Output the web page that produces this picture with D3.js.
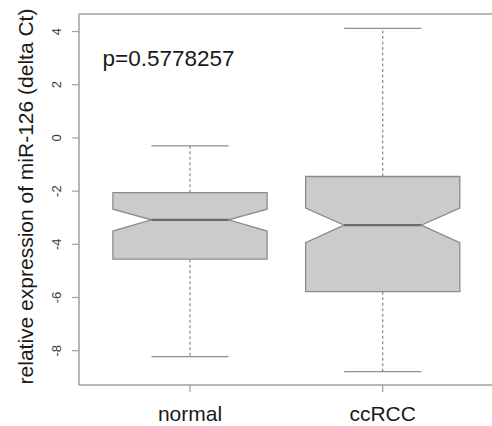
<!DOCTYPE html>
<html>
  <head>
    <meta charset="utf-8">
    <script src="https://d3js.org/d3.v7.min.js"></script>
    <style>
      html, body { margin: 0; padding: 0; background: #fff; overflow: hidden; }
      svg { display: block; }
      text { font-family: "Liberation Sans", Arial, sans-serif; }
    </style>
  </head>
  <body>
    <svg width="492" height="426"></svg>
    <script>
      // data
      var groups = ["normal", "ccRCC"];
      var whiskerLow  = [-8.22, -8.79];
      var boxLow      = [-4.56, -5.78];
      var notchLow    = [-3.50, -3.94];
      var medians     = [-3.08, -3.28];
      var notchHigh   = [-2.68, -2.64];
      var boxHigh     = [-2.06, -1.45];
      var whiskerHigh = [-0.30, 4.12];
      var yTicks = [-8, -6, -4, -2, 0, 2, 4];
      var pLabel = "p=0.5778257";
      var yTitle = "relative expression of miR-126 (delta Ct)";

      var svg = d3.select("svg");

      // plot region (right border runs past the picture edge)
      var plotL = 79, plotR = 494.5, plotT = 14, plotB = 385;

      var x = d3.scaleLinear().domain([0.42, 2.58]).range([plotL - 0.8, plotR]);
      var y = d3.scaleLinear().domain([-9.29, 4.66]).range([plotB, plotT]);

      var boxes = groups.map(function(g, i) {
        return {name: g, pos: i + 1, wl: whiskerLow[i], q1: boxLow[i], nl: notchLow[i],
                med: medians[i], nh: notchHigh[i], q3: boxHigh[i], wh: whiskerHigh[i]};
      });

      var hw = 0.4;  // half box width in x units

      var g = svg.append("g");

      // whiskers
      g.selectAll(".whisk").data(boxes).enter().append("g").each(function(d) {
        var s = d3.select(this);
        s.append("line")
          .attr("x1", x(d.pos)).attr("x2", x(d.pos))
          .attr("y1", y(d.q3)).attr("y2", y(d.wh))
          .attr("stroke", "#8a8a8a").attr("stroke-width", 1.2)
          .attr("stroke-dasharray", "3,2.5");
        s.append("line")
          .attr("x1", x(d.pos)).attr("x2", x(d.pos))
          .attr("y1", y(d.q1)).attr("y2", y(d.wl))
          .attr("stroke", "#8a8a8a").attr("stroke-width", 1.2)
          .attr("stroke-dasharray", "3,2.5");
        [d.wh, d.wl].forEach(function(v) {
          s.append("line")
            .attr("x1", x(d.pos - hw / 2)).attr("x2", x(d.pos + hw / 2))
            .attr("y1", y(v)).attr("y2", y(v))
            .attr("stroke", "#8f8f8f").attr("stroke-width", 1.3);
        });
      });

      // notched boxes
      g.selectAll(".box").data(boxes).enter().append("path")
        .attr("d", function(d) {
          var pts = [
            [d.pos - hw, d.q3], [d.pos + hw, d.q3], [d.pos + hw, d.nh],
            [d.pos + hw / 2, d.med], [d.pos + hw, d.nl], [d.pos + hw, d.q1],
            [d.pos - hw, d.q1], [d.pos - hw, d.nl], [d.pos - hw / 2, d.med],
            [d.pos - hw, d.nh]
          ];
          return d3.line().x(function(p) { return x(p[0]); })
            .y(function(p) { return y(p[1]); })(pts) + "Z";
        })
        .attr("fill", "#cbcbcd")
        .attr("stroke", "#8c8c8c")
        .attr("stroke-width", 1.3);

      // medians
      g.selectAll(".med").data(boxes).enter().append("line")
        .attr("x1", function(d) { return x(d.pos - hw / 2); })
        .attr("x2", function(d) { return x(d.pos + hw / 2); })
        .attr("y1", function(d) { return y(d.med); })
        .attr("y2", function(d) { return y(d.med); })
        .attr("stroke", "#6a6a6a").attr("stroke-width", 2.2);

      // frame: left, top, bottom (right side falls outside the picture)
      var frame = [[plotL, plotT, plotL, plotB], [plotL, plotT, 492, plotT], [plotL, plotB, 492, plotB]];
      svg.selectAll(".frame").data(frame).enter().append("line")
        .attr("x1", function(d) { return d[0]; }).attr("y1", function(d) { return d[1]; })
        .attr("x2", function(d) { return d[2]; }).attr("y2", function(d) { return d[3]; })
        .attr("stroke", "#a0a0a0").attr("stroke-width", 1.5);

      // y axis
      var yAxis = svg.append("g");
      yAxis.selectAll("line").data(yTicks).enter().append("line")
        .attr("x1", plotL - 7).attr("x2", plotL)
        .attr("y1", function(d) { return y(d); }).attr("y2", function(d) { return y(d); })
        .attr("stroke", "#a0a0a0").attr("stroke-width", 1.2);
      yAxis.selectAll("text").data(yTicks).enter().append("text")
        .attr("transform", function(d) { return "translate(61," + y(d) + ") rotate(-90)"; })
        .attr("text-anchor", "middle")
        .attr("font-size", "13px")
        .attr("fill", "#3a3a3a")
        .text(function(d) { return d; });

      // x axis
      var xAxis = svg.append("g");
      xAxis.selectAll("line").data(boxes).enter().append("line")
        .attr("x1", function(d) { return x(d.pos); }).attr("x2", function(d) { return x(d.pos); })
        .attr("y1", plotB).attr("y2", plotB + 7)
        .attr("stroke", "#a0a0a0").attr("stroke-width", 1.2);
      xAxis.selectAll("text").data(boxes).enter().append("text")
        .attr("x", function(d) { return x(d.pos); })
        .attr("y", 421)
        .attr("text-anchor", "middle")
        .attr("font-size", "21px")
        .attr("fill", "#1a1a1a")
        .text(function(d) { return d.name; });

      // y title
      svg.append("text")
        .attr("transform", "translate(33,196.5) rotate(-90)")
        .attr("text-anchor", "middle")
        .attr("font-size", "21px")
        .attr("fill", "#1a1a1a")
        .text(yTitle);

      // p value annotation
      svg.append("text")
        .attr("x", 102.5).attr("y", 66)
        .attr("font-size", "22.5px")
        .attr("fill", "#1a1a1a")
        .text(pLabel);
    </script>
  </body>
</html>
